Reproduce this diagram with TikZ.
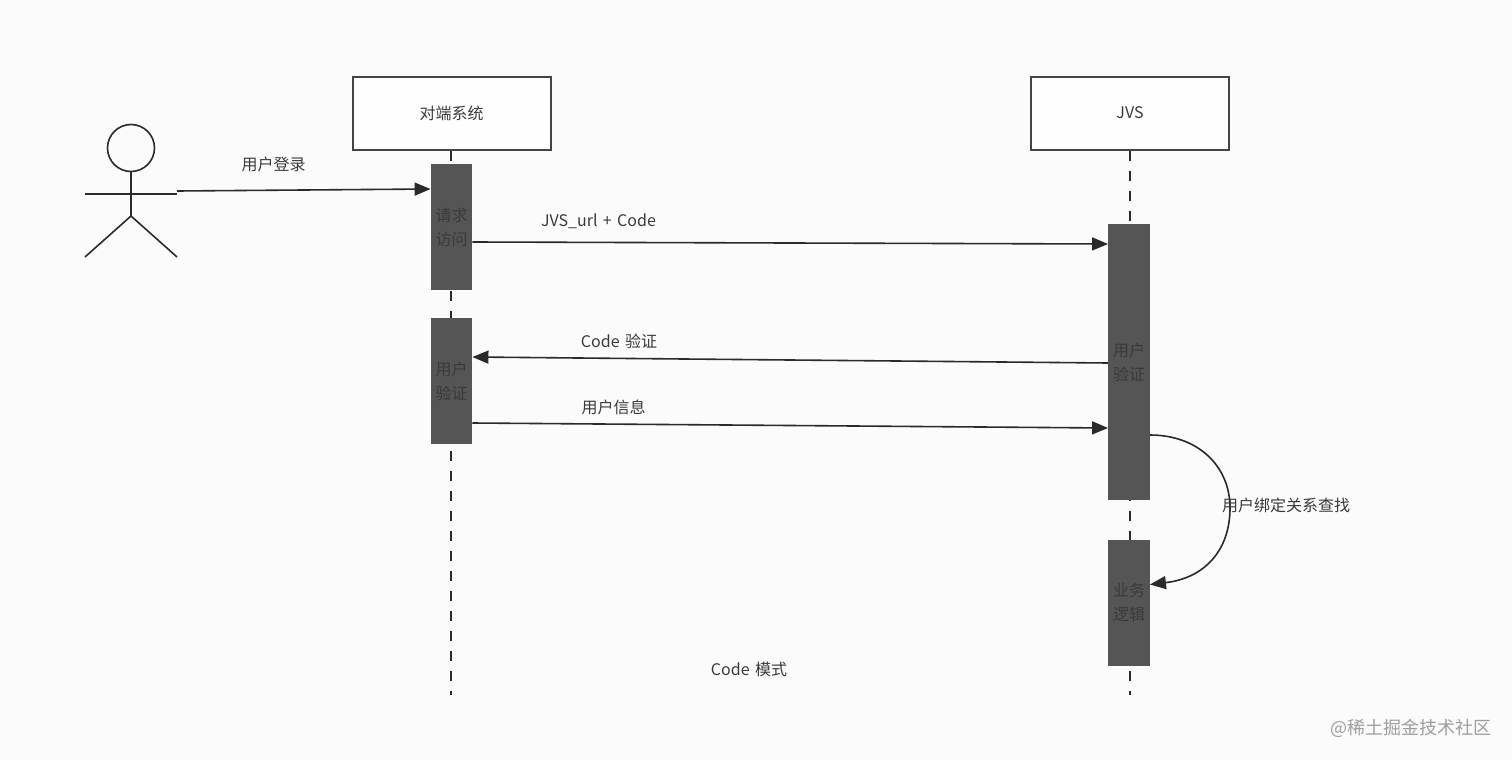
\documentclass[tikz,border=0pt]{standalone}
\usepackage{fontspec}
\setmainfont[WordSpace=1.5]{Noto Sans CJK SC}
\usetikzlibrary{arrows.meta,calc}
\definecolor{bgc}{HTML}{FBFBFB}
\definecolor{linec}{HTML}{2A2A2A}
\definecolor{boxc}{HTML}{444444}
\definecolor{barc}{HTML}{555555}
\definecolor{txtc}{HTML}{3A3A3A}
\tikzset{
  x=1pt,y=-1pt,
  headbox/.style={draw=boxc,line width=2pt,fill=white!70!bgc,minimum width=198pt,minimum height=73pt,inner sep=0pt,text=txtc,font=\fontsize{16}{16}\selectfont},
  barbox/.style={fill=barc,draw=none,minimum width=41.5pt,inner sep=0pt,align=center,text=txtc,font=\fontsize{16}{24}\selectfont},
  lifeline/.style={draw=linec,line width=2pt,dash pattern=on 10pt off 10pt},
  msg/.style={draw=linec,line width=1.6pt,-{Triangle[length=16pt,width=13pt]}},
  lbl/.style={text=txtc,inner sep=0pt,font=\fontsize{16}{16}\selectfont},
  actorline/.style={draw=linec,line width=1.6pt},
}
\begin{document}
\begin{tikzpicture}
\useasboundingbox (0,0) rectangle (1512,760);
\fill[bgc] (0,0) rectangle (1512,760);
% headers
\node[headbox] (sys) at (451.5,113) {对端系统};
\node[headbox] (jvs) at (1130,113) {JVS};
\coordinate (sysend) at (451,695);
\coordinate (jvsend) at (1130,695);
\draw[lifeline] (sys.south -| sysend) -- (sysend);
\draw[lifeline] (jvs.south -| jvsend) -- (jvsend);
% activation bars
\node[barbox,minimum height=126pt] (b1) at (451.5,227) {请求\\访问};
\node[barbox,minimum height=126pt] (b2) at (451.5,381) {用户\\验证};
\node[barbox,minimum height=276pt] (b3) at (1129,362) {用户\\验证};
\node[barbox,minimum height=126pt] (b4) at (1129,602.5) {业务\\逻辑};
% actor
\node[circle,draw=linec,line width=1.6pt,minimum size=47pt,inner sep=0pt] (head) at (131,148) {};
\coordinate (hip) at (131,216);
\coordinate (armL) at (85,194);
\coordinate (armR) at (177,194);
\coordinate (legL) at (85,257);
\coordinate (legR) at (177,257);
\coordinate (msgstart) at (177,191);
\draw[actorline] (head.south) -- (hip);
\draw[actorline] (armL) -- (armR);
\draw[actorline] (legL) -- (hip) -- (legR);
% messages
\draw[msg] (msgstart) -- ([yshift=38pt]b1.west);
\draw[msg] ([yshift=-15pt]b1.east) -- ([yshift=118pt]b3.west);
\draw[msg] ([yshift=-1pt]b3.west) -- ([yshift=24pt]b2.east);
\draw[msg] ([yshift=-42pt]b2.east) -- ([yshift=-66pt]b3.west);
\draw[msg] ([yshift=-73pt]b3.east) .. controls +(48,0) and +(0,-42) .. (1230,508) .. controls +(0,42) and (1205,578) .. ([yshift=18pt]b4.east);
% labels
\node[lbl] (l1) at (273.5,164.5) {用户登录};
\node[lbl] (l2) at (598.5,221) {JVS\_url + Code};
\node[lbl] (l3) at (619,341) {Code 验证};
\node[lbl] (l4) at (613.5,407) {用户信息};
\node[lbl] (l5) at (1286,505) {用户绑定关系查找};
\node[lbl] (l6) at (749,669) {Code 模式};
\node[inner sep=0pt,text=black!38,font=\fontsize{18}{18}\selectfont] (wm) at (1410.5,728) {@稀土掘金技术社区};
\end{tikzpicture}
\end{document}
